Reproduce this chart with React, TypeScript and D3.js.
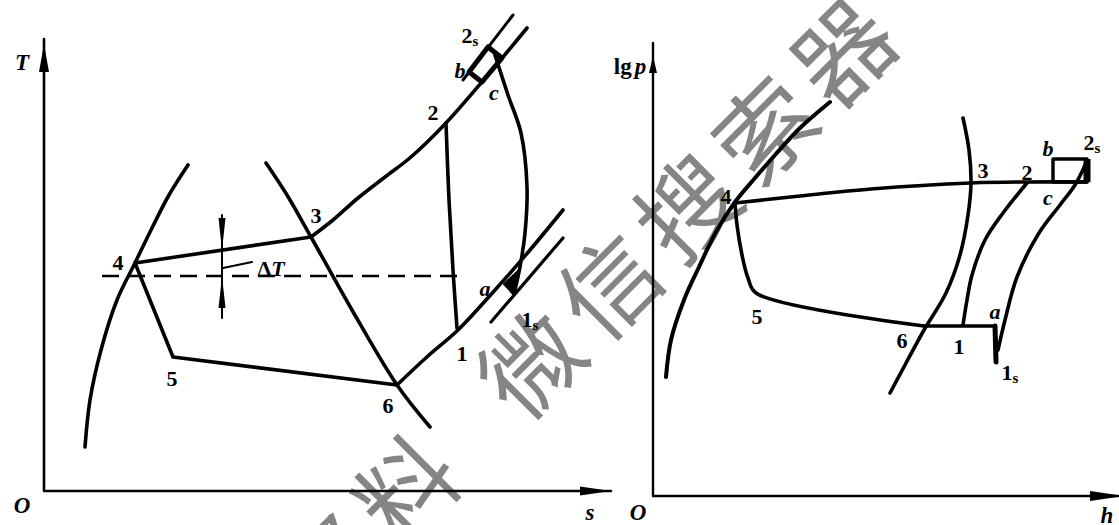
import React, { useEffect } from "react";
import * as d3 from "d3";

type P = [number, number];

// ---- left panel: T-s diagram, points as [s, T] in diagram units ----
const tsLiquid: P[] = [[8.2, 8.8], [9.2, 18.2], [11.4, 28.2], [14.6, 38.2], [18.2, 45.6], [21.6, 52.6], [25, 59.2], [28.8, 65.2]];
const tsVapor: P[] = [[44.4, 65.6], [48.6, 59.2], [53.4, 50.8], [61.6, 36.2], [70.6, 21.2], [77.2, 12.8]];
const tsCondense: P[] = [[18.2, 45.6], [53.4, 50.8]];
const tsHighIsobar: P[] = [[53.4, 50.8], [57.8, 54.2], [62.8, 58.6], [68.2, 62.8], [73.4, 66.8], [80.4, 73.6], [88.6, 83], [96.6, 92.6]];
const tsDischarge: P[] = [[83.8, 82.2], [93.8, 95.2]];
const tsValveB: P[] = [[85, 83.8], [88.8, 88.8], [91.6, 86.6], [87.6, 81.8]];
const tsRealComp: P[] = [[90.2, 87.2], [92.8, 79.2], [95.4, 71.6], [96.6, 60.8], [96.2, 51.6], [95.2, 44.8], [94, 39.4]];
const tsIsentrope: P[] = [[80.4, 73.6], [81, 58.2], [81.8, 44.2], [82.6, 32.6]];
const tsDashed: P[] = [[11.6, 43], [82.6, 43]];
const tsThrottle: P[] = [[18.2, 45.6], [25.8, 26.8], [70.6, 21.2]];
const tsLowIsobar: P[] = [[70.6, 21.2], [76.8, 27], [82.8, 32.2], [90.2, 40.2], [97.2, 48.2], [103.8, 56.2]];
const tsSuction: P[] = [[89.4, 33.8], [103.8, 50.6]];
const tsValveA: P[] = [[92, 41.4], [95, 44.2], [94, 39.2]];
const tsDeltaT = { s: 35.6, top: 55.2, tipTop: 48.2, baseTop: 54.6, tipBot: 43, baseBot: 36.6, bottom: 34.6 };
const tsLeader: P[] = [[35.8, 44.6], [41.6, 45.8]];

const tsLabels = [
  { t: "4", s: 14.8, v: 45.8 }, { t: "3", s: 54.4, v: 55.2 }, { t: "2", s: 77.8, v: 75.8 },
  { t: "5", s: 25.6, v: 22.6 }, { t: "6", s: 68.8, v: 17.2 }, { t: "1", s: 83.6, v: 27.6 },
  { t: "a", s: 88.2, v: 40.6, it: true }, { t: "1", sub: "s", s: 97.2, v: 34.4 },
  { t: "2", sub: "s", s: 85.2, v: 91.2 }, { t: "b", s: 83.2, v: 84.2, it: true }, { t: "c", s: 90, v: 79.8, it: true },
];

// ---- right panel: lg p-h diagram, points as [h, lg p] ----
const phLiquid: P[] = [[2.6, 23.8], [3.6, 31.2], [6.2, 39.2], [9.2, 45.8], [12.6, 52.8], [16.4, 58.8], [20.4, 63.6], [24.4, 68.2], [29.4, 73.6], [35.4, 78.8]];
const phVapor: P[] = [[62, 75.6], [63.2, 69.2], [63.6, 62.6], [63, 56.2], [61.4, 48.2], [58.6, 40.6], [54.2, 33.2], [50.4, 26.2], [47.4, 20.6]];
const phCondense: P[] = [[16.4, 58.6], [29.4, 60], [43.6, 61.4], [63.6, 62.6], [74.8, 62.8], [86.8, 62.8]];
const phValveB = { h0: 80, h1: 86.8, p0: 62.8, p1: 67.4 };
const phThrottle: P[] = [[16.4, 58.6], [16.8, 54.2], [17.8, 48.2], [19, 43.6], [20.6, 40.6], [54.2, 34]];
const phEvap: P[] = [[54.2, 34], [68.4, 34]];
const phValveA: P[] = [[68.4, 34], [68.6, 26.8]];
const phIsentrope: P[] = [[62, 34.2], [62.8, 39.2], [63.8, 44.2], [66.4, 51.2], [70, 56.6], [74.8, 62.6]];
const phRealComp: P[] = [[69, 29.2], [70.4, 35.2], [72.8, 43.8], [77.2, 52.6], [81.4, 58.2], [84.4, 62.2], [86.6, 66.6]];

const phLabels = [
  { t: "4", s: 14.6, v: 60 }, { t: "5", s: 20.8, v: 36 }, { t: "6", s: 49.8, v: 31.2 },
  { t: "1", s: 61.2, v: 30 }, { t: "a", s: 68.4, v: 37, it: true }, { t: "1", sub: "s", s: 71.4, v: 24.8 },
  { t: "3", s: 66, v: 65.2 }, { t: "2", s: 74.8, v: 64.8 }, { t: "b", s: 79, v: 69.6, it: true },
  { t: "2", sub: "s", s: 87.8, v: 70.8 }, { t: "c", s: 79, v: 59.8, it: true },
];

const watermark = ["资", "料", "微", "信", "搜", "索", "器"];
const watermarkSteps = [-2.6, -1.6, 0, 1, 2, 3, 4];

const sX = d3.scaleLinear().domain([0, 100]).range([44, 544]);
const tY = d3.scaleLinear().domain([0, 90]).range([491, 41]);
const hX = d3.scaleLinear().domain([0, 90]).range([653, 1103]);
const pY = d3.scaleLinear().domain([0, 90]).range([496, 46]);

const serif = "'Liberation Serif', 'DejaVu Serif', serif";

function mk(x: d3.ScaleLinear<number, number>, y: d3.ScaleLinear<number, number>, curve: d3.CurveFactory = d3.curveLinear) {
  return d3.line<P>().x((d) => x(d[0])).y((d) => y(d[1])).curve(curve);
}

function Label({ x, y, t, sub, it }: { x: number; y: number; t: string; sub?: string; it?: boolean }) {
  return (
    <text x={x} y={y} textAnchor="middle" dominantBaseline="central" fontFamily={serif}
      fontSize={22} fontWeight="bold" fontStyle={it ? "italic" : "normal"}>
      {t}
      {sub && <tspan fontSize={15} dy={6}>{sub}</tspan>}
    </text>
  );
}

export default function App() {
  useEffect(() => {
    document.body.style.margin = "0";
  }, []);

  const ts = mk(sX, tY);
  const tsSmooth = mk(sX, tY, d3.curveCatmullRom);
  const ph = mk(hX, pY);
  const phSmooth = mk(hX, pY, d3.curveCatmullRom);

  const lw = 3.6;
  const ax = sX(0), ay = tY(0);
  const bx = hX(0), by = pY(0);
  const d = tsDeltaT;
  const dx = sX(d.s);

  return (
    <svg width={1119} height={525} style={{ display: "block", background: "#fff" }}>
      {/* watermark */}
      <g fill="#858585" fontFamily="'Noto Sans CJK SC', sans-serif" fontSize={98}>
        {watermark.map((c, i) => {
          const cx = 527 + 78 * watermarkSteps[i];
          const cy = 360 - 78 * watermarkSteps[i];
          return (
            <text key={i} x={cx} y={cy} textAnchor="middle" dominantBaseline="central"
              transform={`rotate(-45 ${cx} ${cy})`}>{c}</text>
          );
        })}
      </g>

      <g fill="none" stroke="#000" strokeLinecap="round" strokeLinejoin="round">
        {/* left axes */}
        <path d={`M${ax},${tY(90.4)}V${ay}H${sX(113.4)}`} strokeWidth={2.6} />
        {/* right axes */}
        <path d={`M${bx},${pY(90.6)}V${by}H${hX(94)}`} strokeWidth={2.4} />

        {/* T-s curves */}
        <path d={tsSmooth(tsLiquid)!} strokeWidth={lw} />
        <path d={tsSmooth(tsVapor)!} strokeWidth={lw} />
        <path d={ts(tsCondense)!} strokeWidth={lw} />
        <path d={tsSmooth(tsHighIsobar)!} strokeWidth={lw} />
        <path d={ts(tsDischarge)!} strokeWidth={3} />
        <path d={ts(tsValveB)! + "Z"} strokeWidth={5} />
        <path d={tsSmooth(tsRealComp)!} strokeWidth={lw} />
        <path d={tsSmooth(tsIsentrope)!} strokeWidth={lw} />
        <path d={ts(tsDashed)!} strokeWidth={2.4} strokeDasharray="17,9" strokeLinecap="butt" />
        <path d={ts(tsThrottle)!} strokeWidth={lw} />
        <path d={tsSmooth(tsLowIsobar)!} strokeWidth={lw} />
        <path d={ts(tsSuction)!} strokeWidth={3.2} />
        <path d={ts(tsLeader)!} strokeWidth={2} />
        <path d={`M${dx},${tY(d.top)}V${tY(d.bottom)}`} strokeWidth={2} />

        {/* lg p-h curves */}
        <path d={phSmooth(phLiquid)!} strokeWidth={4} />
        <path d={phSmooth(phVapor)!} strokeWidth={lw} />
        <path d={phSmooth(phCondense)!} strokeWidth={lw} />
        <path d={phSmooth(phThrottle)!} strokeWidth={lw} />
        <path d={ph(phEvap)!} strokeWidth={lw} />
        <path d={ph(phValveA)!} strokeWidth={5} />
        <path d={phSmooth(phIsentrope)!} strokeWidth={lw} />
        <path d={phSmooth(phRealComp)!} strokeWidth={lw} />
        <rect x={hX(phValveB.h0)} y={pY(phValveB.p1)} width={hX(phValveB.h1) - hX(phValveB.h0)}
          height={pY(phValveB.p0) - pY(phValveB.p1)} strokeWidth={3.4} />
        <path d={`M${hX(phValveB.h1)},${pY(phValveB.p1)}V${pY(phValveB.p0)}`} strokeWidth={7} strokeLinecap="butt" />
      </g>

      {/* arrowheads and filled bits */}
      <g fill="#000">
        <path d={`M${ax},${tY(89.4)}L${ax + 5},${tY(83.8)}L${ax - 5},${tY(83.8)}Z`} />
        <path d={`M${sX(113.4)},${ay}L${sX(107.2)},${ay - 4.5}L${sX(107.2)},${ay + 4.5}Z`} />
        <path d={`M${bx},${pY(88)}L${bx + 4},${pY(84.6)}L${bx - 4},${pY(84.6)}Z`} />
        <path d={`M${hX(94.2)},${by}L${hX(87.4)},${by - 5}L${hX(87.4)},${by + 5}Z`} />
        <path d={ts(tsValveA)! + "Z"} stroke="#000" strokeWidth={2} strokeLinejoin="round" />
        <path d={`M${dx},${tY(d.tipTop)}L${dx + 3.5},${tY(d.baseTop)}L${dx - 3.5},${tY(d.baseTop)}Z`} />
        <path d={`M${dx},${tY(d.tipBot)}L${dx + 3.5},${tY(d.baseBot)}L${dx - 3.5},${tY(d.baseBot)}Z`} />
      </g>

      {/* labels */}
      {tsLabels.map((l, i) => (
        <Label key={"l" + i} x={sX(l.s)} y={tY(l.v)} t={l.t} sub={l.sub} it={l.it} />
      ))}
      {phLabels.map((l, i) => (
        <Label key={"r" + i} x={hX(l.s)} y={pY(l.v)} t={l.t} sub={l.sub} it={l.it} />
      ))}
      <text x={sX(45.4)} y={tY(44.6)} textAnchor="middle" dominantBaseline="central" fontFamily={serif} fontSize={22} fontWeight="bold">
        Δ<tspan fontStyle="italic">T</tspan>
      </text>
      <g fontFamily={serif} fontSize={23} fontWeight="bold" fontStyle="italic" textAnchor="middle" dominantBaseline="central">
        <text x={22} y={62}>T</text>
        <text x={22} y={505}>O</text>
        <text x={590} y={512}>s</text>
        <text x={638} y={512}>O</text>
        <text x={1107} y={515}>h</text>
      </g>
      <text x={630} y={66} textAnchor="middle" dominantBaseline="central" fontFamily={serif} fontSize={23} fontWeight="bold">
        lg<tspan fontStyle="italic" dx={3}>p</tspan>
      </text>
    </svg>
  );
}
